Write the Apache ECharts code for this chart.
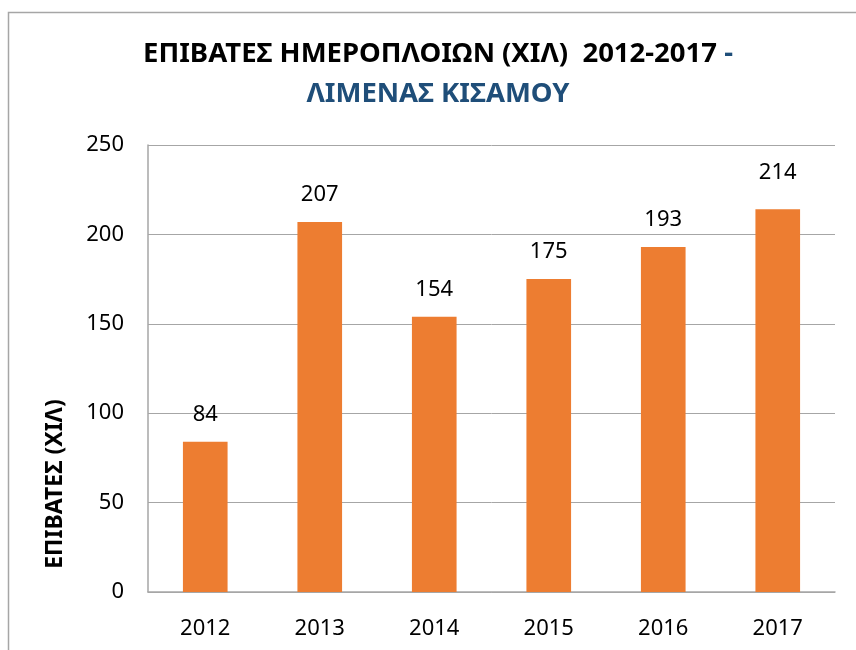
<!DOCTYPE html>
<html>
<head>
<meta charset="utf-8">
<script src="https://cdn.jsdelivr.net/npm/echarts@6/dist/echarts.min.js"></script>
<style>
  html, body { margin: 0; padding: 0; background: #fff; }
  #chart { width: 856px; height: 650px; }
</style>
</head>
<body>
<div id="chart"></div>
<script>
// Passengers of daily ferries, Kissamos port (thousands)
var years = ['2012', '2013', '2014', '2015', '2016', '2017'];
var passengers = [84, 207, 154, 175, 193, 214];
var yTicks = { min: 0, max: 250, interval: 50 };

var titleLine1 = 'ΕΠΙΒΑΤΕΣ ΗΜΕΡΟΠΛΟΙΩΝ (ΧΙΛ)  2012-2017 ';
var titleDash = '-';
var titleLine2 = 'ΛΙΜΕΝΑΣ ΚΙΣΑΜΟΥ';
var yName = 'ΕΠΙΒΑΤΕΣ (ΧΙΛ)';

var textFont = "'Noto Sans', sans-serif";
var titleFont = "'Noto Sans', sans-serif";
var numSize = 22;

var chart = echarts.init(document.getElementById('chart'));

chart.setOption({
  animation: false,
  title: {
    text: '{a|' + titleLine1 + '}{b|' + titleDash + '}\n{b|' + titleLine2 + '}',
    left: 433,
    top: 29,
    textAlign: 'center',
    textStyle: {
      rich: {
        a: { fontFamily: titleFont, fontWeight: 'bold', fontSize: 27.5, color: '#000', lineHeight: 40 },
        b: { fontFamily: titleFont, fontWeight: 'bold', fontSize: 27.5, color: '#1F4E79', lineHeight: 40 }
      }
    }
  },
  graphic: [
    {
      type: 'rect',
      shape: { x: 8.5, y: 12.5, width: 900, height: 700 },
      style: { fill: 'none', stroke: '#A6A6A6', lineWidth: 1.5 },
      silent: true
    },
    {
      type: 'text',
      x: 55, y: 484,
      rotation: Math.PI / 2,
      style: {
        text: yName,
        fontFamily: titleFont,
        fontWeight: 'bold',
        fontSize: 23,
        fill: '#000',
        align: 'center',
        verticalAlign: 'middle'
      }
    }
  ],
  grid: { left: 148, right: 21, top: 145, bottom: 58, containLabel: false },
  xAxis: {
    type: 'category',
    data: years,
    axisLine: { lineStyle: { color: '#A6A6A6', width: 1.5 } },
    axisTick: { show: false },
    axisLabel: { fontFamily: textFont, fontSize: numSize, color: '#000', margin: 26 }
  },
  yAxis: {
    type: 'value',
    min: yTicks.min,
    max: yTicks.max,
    interval: yTicks.interval,
    axisLine: { show: true, lineStyle: { color: '#A6A6A6', width: 1.5 } },
    axisTick: { show: false },
    splitLine: { lineStyle: { color: '#A6A6A6', width: 1 } },
    axisLabel: { fontFamily: textFont, fontSize: numSize, color: '#000', margin: 24 }
  },
  series: [{
    type: 'bar',
    data: passengers.map(function (v, i) {
      var item = { value: v };
      if (i === passengers.length - 1) item.label = { distance: 26 };
      return item;
    }),
    barWidth: '39%',
    itemStyle: { color: '#ED7D31' },
    label: {
      show: true,
      position: 'top',
      distance: 16,
      fontFamily: textFont,
      fontSize: numSize,
      color: '#000'
    }
  }]
});
</script>
</body>
</html>
